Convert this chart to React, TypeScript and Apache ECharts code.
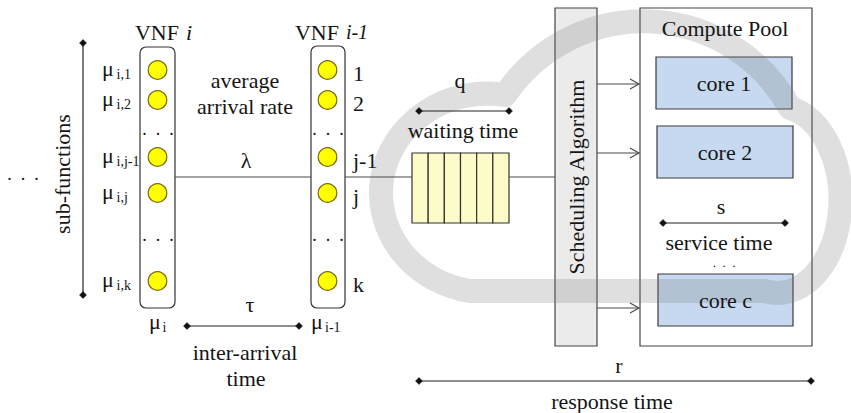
import React, { useEffect, useRef } from "react";
import * as echarts from "echarts";

// ---- content (texts only) ----
const vnfTitles = ["VNF", "VNF"];
const vnfIndices = ["i", "i-1"];
const vnfRateSubscripts = ["i", "i-1"];
const leftRowSubscripts = ["i,1", "i,2", "i,j-1", "i,j", "i,k"];
const rightRowLabels = ["1", "2", "j-1", "j", "k"];
const queueCells = ["", "", "", "", "", ""];
const coreNames = ["core 1", "core 2", "core c"];
const intervalSymbols = ["τ", "q", "s", "r"];
const intervalNames = ["inter-arrival", "waiting time", "service time", "response time"];
const arrivalTexts = ["average", "arrival rate", "λ"];
const blockTitles = ["sub-functions", "Scheduling Algorithm", "Compute Pool"];
const ELLIPSIS = ".\u2002.\u2002.";

// ---- layout ----
const W = 851;
const H = 413;
const FONT = "Liberation Serif";
const INK = "#151515";
const LINE = "#4a4a4a";
const FS = 22;
const rowY = [70, 100, 157, 193, 281];
const dotRowsY = [133, 239];

// cloud outline (centre line of the thick watermark stroke)
const CLOUD_D =
  "M 470 291 A 105 98 0 0 1 505 95 A 167 167 0 0 1 790 108 A 62 92 0 0 1 765 291 Z";

function txt(text: string, x: number, y: number, o: any = {}) {
  const align = o.align ?? "center";
  const va = o.va ?? "middle";
  return {
    type: "text",
    x: o.rot ? x : 0,
    y: o.rot ? y : 0,
    rotation: o.rot ?? 0,
    style: {
      text,
      x: o.rot ? 0 : x,
      y: o.rot ? 0 : y,
      fill: o.fill ?? INK,
      fontSize: o.size ?? FS,
      fontFamily: FONT,
      fontStyle: o.italic ? "italic" : "normal",
      align,
      verticalAlign: va,
      textAlign: align,
      textVerticalAlign: va,
    },
  };
}

function line(x1: number, y1: number, x2: number, y2: number, stroke = LINE, lw = 1.2) {
  return { type: "line", shape: { x1, y1, x2, y2 }, style: { stroke, lineWidth: lw } };
}

function diamond(x: number, y: number, s = 3.5) {
  return {
    type: "polygon",
    shape: { points: [[x - s, y], [x, y - s], [x + s, y], [x, y + s]] },
    style: { fill: "#111", stroke: "#111", lineWidth: 0.5 },
  };
}

function span(x1: number, y1: number, x2: number, y2: number) {
  return [line(x1, y1, x2, y2, "#222", 1.2), diamond(x1, y1), diamond(x2, y2)];
}

function arrow(x1: number, x2: number, y: number) {
  return [
    line(x1, y, x2, y, LINE, 1.2),
    {
      type: "polyline",
      shape: { points: [[x2 - 9, y - 5], [x2, y], [x2 - 9, y + 5]] },
      style: { stroke: LINE, lineWidth: 1.2, fill: null },
    },
  ];
}

function buildElements() {
  const els: any[] = [];

  // ---- filled boxes ----
  const vnfBoxes = [
    { x: 140, y: 47, w: 35, h: 261, cx: 157.5 },
    { x: 311, y: 46, w: 34, h: 262, cx: 327.5 },
  ];
  vnfBoxes.forEach((b) => {
    els.push({
      type: "rect",
      shape: { x: b.x, y: b.y, width: b.w, height: b.h, r: 6 },
      style: { fill: "#fff", stroke: "#333", lineWidth: 1.2 },
    });
    rowY.forEach((y) => {
      els.push({
        type: "circle",
        shape: { cx: b.cx, cy: y, r: 9.3 },
        style: { fill: "#ffff00", stroke: "#7a6a10", lineWidth: 1.2 },
      });
    });
  });

  // queue
  const qx = 412, qy = 153, qw = 97, qh = 70;
  queueCells.forEach((_, i) => {
    const cw = qw / queueCells.length;
    els.push({
      type: "rect",
      shape: { x: qx + i * cw, y: qy, width: cw, height: qh },
      style: { fill: "#fdfcc8", stroke: "#333", lineWidth: 1.2 },
    });
  });

  // scheduling
  els.push({
    type: "rect",
    shape: { x: 555, y: 8, width: 42, height: 338 },
    style: { fill: "#ebebeb", stroke: "#444", lineWidth: 1.2 },
  });
  // compute pool
  els.push({
    type: "rect",
    shape: { x: 640, y: 8, width: 172, height: 338 },
    style: { fill: "#fff", stroke: "#444", lineWidth: 1.2 },
  });
  const cores = [
    { x: 656, y: 57, w: 136 },
    { x: 657, y: 126, w: 136 },
    { x: 658, y: 274, w: 135 },
  ];
  cores.forEach((c) => {
    els.push({
      type: "rect",
      shape: { x: c.x, y: c.y, width: c.w, height: 52 },
      style: { fill: "#c6d9f0", stroke: "#3a3a3a", lineWidth: 1.2 },
    });
  });

  // ---- cloud watermark (over fills) ----
  echarts.graphic.registerShape("cloud", echarts.graphic.extendPath(CLOUD_D, {}) as any);
  els.push({
    type: "cloud",
    style: { fill: "none", stroke: "rgba(120,120,120,0.24)", lineWidth: 24, lineJoin: "round" },
  });

  // ---- connecting lines ----
  els.push(line(175, 177, 311, 177));
  els.push(line(345, 177, 412, 177));
  els.push(line(509, 177, 555, 177));
  [84, 153, 308].forEach((y) => els.push(...arrow(597, 639, y)));

  // spans
  els.push(...span(83, 43, 83, 295));
  els.push(...span(187, 326, 299, 326));
  els.push(...span(419, 111, 509, 111));
  els.push(...span(663, 223, 785, 223));
  els.push(...span(419, 381, 811, 381));

  // ---- texts ----
  els.push(txt(vnfTitles[0], 157, 32));
  els.push(txt(vnfIndices[0], 189, 32, { italic: true }));
  els.push(txt(vnfTitles[1], 317, 32));
  els.push(txt(vnfIndices[1], 357, 32, { italic: true, size: 20 }));

  leftRowSubscripts.forEach((s, i) => {
    const y = rowY[i];
    els.push(txt("μ", 102, y - 2, { align: "left" }));
    els.push(txt(s, 116.5, y + 4, { align: "left", size: 14 }));
  });
  rightRowLabels.forEach((s, i) => {
    els.push(txt(s, 353, rowY[i] + 3, { align: "left" }));
  });
  dotRowsY.forEach((y) => {
    els.push(txt(ELLIPSIS, 158, y - 4, { size: 18 }));
    els.push(txt(ELLIPSIS, 328, y - 4, { size: 18 }));
  });
  els.push(txt(ELLIPSIS, 23, 174, { size: 18 }));
  els.push(txt(ELLIPSIS, 724, 262, { size: 13 }));

  els.push(txt("μ", 149, 321, { align: "left" }));
  els.push(txt(vnfRateSubscripts[0], 162.5, 327, { align: "left", size: 14 }));
  els.push(txt("μ", 311, 321, { align: "left" }));
  els.push(txt(vnfRateSubscripts[1], 325, 327, { align: "left", size: 14 }));

  els.push(txt(arrivalTexts[0], 245, 80));
  els.push(txt(arrivalTexts[1], 245, 106));
  els.push(txt(arrivalTexts[2], 246, 160));

  els.push(txt(intervalSymbols[0], 250, 304));
  els.push(txt(intervalNames[0], 245, 352));
  els.push(txt("time", 246, 378));
  els.push(txt(intervalSymbols[1], 460, 80));
  els.push(txt(intervalNames[1], 463, 130));
  els.push(txt(intervalSymbols[2], 721, 206));
  els.push(txt(intervalNames[2], 719, 242));
  els.push(txt(intervalSymbols[3], 619, 365));
  els.push(txt(intervalNames[3], 612, 401));

  els.push(txt(blockTitles[0], 62, 174, { rot: Math.PI / 2 }));
  els.push(txt(blockTitles[1], 576, 177, { rot: Math.PI / 2 }));
  els.push(txt(blockTitles[2], 725, 28));

  coreNames.forEach((n, i) => {
    const c = cores[i];
    els.push(txt(n, c.x + c.w / 2, c.y + 26));
  });

  return els;
}

export default function App() {
  const ref = useRef<HTMLDivElement>(null);
  useEffect(() => {
    document.body.style.margin = "0";
    if (!ref.current) return;
    const chart = echarts.init(ref.current, undefined, { renderer: "svg" });
    chart.setOption({
      animation: false,
      backgroundColor: "#ffffff",
      graphic: { elements: buildElements() },
    });
    return () => chart.dispose();
  }, []);
  return <div ref={ref} style={{ width: W, height: H }} />;
}
